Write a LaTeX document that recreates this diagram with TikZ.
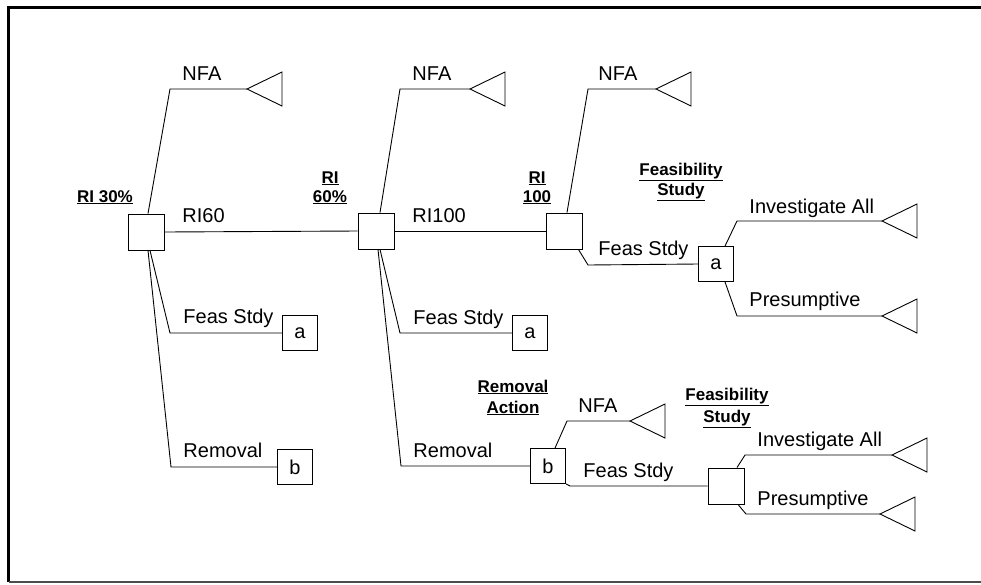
\documentclass[tikz,border=0pt]{standalone}
\usepackage{fontspec}
\setmainfont{Liberation Sans}
\begin{document}
\begin{tikzpicture}[x=1pt,y=-1pt,line width=0.9pt,
  dec/.style={draw,minimum size=36pt,inner sep=0pt},
  lbox/.style={draw,minimum size=35pt,inner sep=0pt,font=\fontsize{20}{24}\selectfont},
  txt/.style={anchor=base west,inner sep=0pt,font=\fontsize{20}{24}\selectfont},
  lab/.style={anchor=base,inner sep=0pt,font=\bfseries\fontsize{17}{20}\selectfont},
  term/.pic={\draw (0,0) -- (35,-17) -- (35,17) -- cycle;}]
\useasboundingbox (0,0) rectangle (981,584);
% frame
\draw[line width=3pt] (981,7.5) -- (8.5,7.5) -- (8.5,582);
\draw[line width=1.2pt,black!70] (8.5,582) -- (981,582);

% decision squares
\node[dec] (s1) at (146,232) {};
\node[dec] (s2) at (376,231) {};
\node[dec] (s3) at (564,231) {};
\node[dec] (s4) at (726,486) {};
% letter boxes
\node[lbox] (a1) at (300,333) {a};
\node[lbox] (b1) at (295,467) {b};
\node[lbox] (a2) at (530,333) {a};
\node[lbox] (b2) at (548,466) {b};
\node[lbox] (a3) at (716,264) {a};
% terminal points
\coordinate (t1) at (247,89);
\coordinate (t2) at (470,89);
\coordinate (t3) at (656,89);
\coordinate (t4) at (882,221);
\coordinate (t5) at (882,316);
\coordinate (t6) at (630,421);
\coordinate (t7) at (892,455);
\coordinate (t8) at (880,514);
\foreach \t in {t1,t2,t3,t4,t5,t6,t7,t8} {\pic at (\t) {term};}

% connectors
\draw ([xshift=2pt]s1.north) -- (170,89) -- (t1);
\draw (s1.east) -- (s2.west);
\draw ([xshift=4pt]s1.south) -- (170,333) -- (a1.west);
\draw ([xshift=2pt]s1.south) -- (171,467) -- (b1.west);
\draw ([xshift=4pt]s2.north) -- (400,89) -- (t2);
\draw (s2.east) -- (s3.west);
\draw ([xshift=4pt]s2.south) -- (400,333) -- (a2.west);
\draw ([xshift=2pt]s2.south) -- (401,466) -- (b2.west);
\draw ([xshift=3pt]s3.north) -- (588,89) -- (t3);
\draw ([xshift=-4pt]s3.south east) -- (588,265) -- (a3.west);
\draw ([xshift=9pt]a3.north) -- (737,221) -- (t4);
\draw ([xshift=9pt]a3.south) -- (737,316) -- (t5);
\draw ([xshift=7pt]b2.north) -- (567,421) -- (t6);
\draw (b2.south east) -- (570,486) -- (s4.west);
\draw ([xshift=11pt]s4.north) -- (745,455) -- (t7);
\draw ([xshift=12pt]s4.south) -- (746,514) -- (t8);

% branch texts
\node[txt] (n1) at (182,80) {NFA};
\node[txt] (r60) at (182,222) {RI60};
\node[txt] (f1) at (183,323) {Feas Stdy};
\node[txt] (rm1) at (183,457) {Removal};
\node[txt] (n2) at (412,80) {NFA};
\node[txt] (r100) at (412,222) {RI100};
\node[txt] (f2) at (413,324) {Feas Stdy};
\node[txt] (rm2) at (413,457) {Removal};
\node[txt] (n3) at (598,80) {NFA};
\node[txt] (f3) at (598,255) {Feas Stdy};
\node[txt] (ia1) at (749,213) {Investigate All};
\node[txt] (pr1) at (749,306) {Presumptive};
\node[txt] (n4) at (578,412) {NFA};
\node[txt] (f4) at (583,477) {Feas Stdy};
\node[txt] (ia2) at (757,446) {Investigate All};
\node[txt] (pr2) at (757,505) {Presumptive};

% stage labels
\node[lab] (l1) at (105,202) {\underline{RI 30\%}};
\node[lab] (l2a) at (330,183) {\underline{RI}};
\node[lab] (l2b) at (330,202) {\underline{60\%}};
\node[lab] (l3a) at (537,183) {\underline{RI}};
\node[lab] (l3b) at (537,202) {\underline{100}};
\node[lab] (l4a) at (681,175) {\underline{Feasibility}};
\node[lab] (l4b) at (681,195) {\underline{Study}};
\node[lab] (l5a) at (513,392) {\underline{Removal}};
\node[lab] (l5b) at (513,413) {\underline{Action}};
\node[lab] (l6a) at (727,400) {\underline{Feasibility}};
\node[lab] (l6b) at (727,422) {\underline{Study}};
\end{tikzpicture}
\end{document}
